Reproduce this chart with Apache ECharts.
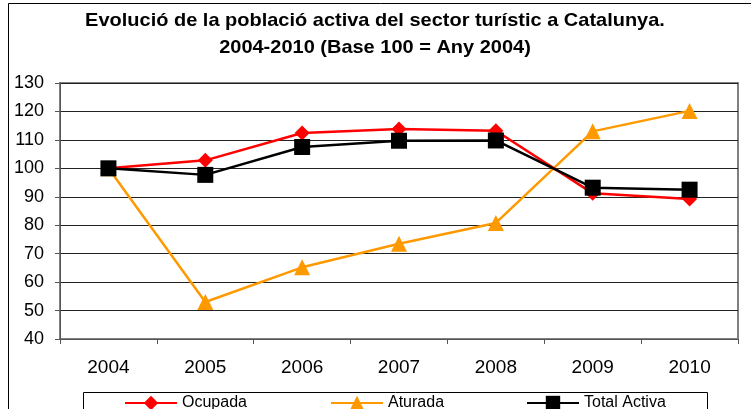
<!DOCTYPE html>
<html>
<head>
<meta charset="utf-8">
<script src="https://cdn.jsdelivr.net/npm/echarts@6/dist/echarts.min.js"></script>
<style>
  html, body { margin: 0; padding: 0; background: #fff; }
  #chart { width: 751px; height: 409px; }
</style>
</head>
<body>
<div id="chart"></div>
<script>
var years = ['2004', '2005', '2006', '2007', '2008', '2009', '2010'];
var ocupada = [100, 102.8, 112.4, 113.8, 113.2, 91.2, 89.2];
var aturada = [100, 53, 65.2, 73.5, 80.8, 113, 120.2];
var totalActiva = [100, 97.7, 107.5, 109.7, 109.8, 93.2, 92.5];
var titleLines = [
  'Evolució de la població activa del sector turístic a Catalunya.',
  '2004-2010 (Base 100 = Any 2004)'
];

var font = '"Liberation Sans", Arial, sans-serif';
var chart = echarts.init(document.getElementById('chart'));

// excel export stretches the text a bit wider than plain arial
function titleLine(text, y) {
  return {
    type: 'text',
    x: 375,
    y: y,
    scaleX: 1.13,
    silent: true,
    style: {
      text: text,
      x: 0,
      y: 0,
      align: 'center',
      verticalAlign: 'middle',
      fontFamily: font,
      fontSize: 17.7,
      fontWeight: 'bold',
      fill: '#000'
    }
  };
}

function legendAt(name, left) {
  return {
    data: [name],
    left: left,
    top: 395,
    padding: 0,
    itemWidth: 52,
    itemHeight: 18,
    itemGap: 0,
    textStyle: { fontFamily: font, fontSize: 16, color: '#000' }
  };
}

chart.setOption({
  animation: false,
  backgroundColor: '#fff',
  graphic: [
    {
      type: 'rect',
      shape: { x: 8.5, y: 3.5, width: 800, height: 500 },
      style: { fill: null, stroke: '#000', lineWidth: 1 },
      silent: true
    },
    {
      type: 'rect',
      shape: { x: 83.5, y: 392.5, width: 624, height: 40 },
      style: { fill: '#fff', stroke: '#000', lineWidth: 1 },
      silent: true,
      z: -1
    },
    titleLine(titleLines[0], 21),
    titleLine(titleLines[1], 48)
  ],
  legend: [
    legendAt('Ocupada', 124),
    legendAt('Aturada', 330),
    legendAt('Total Activa', 526)
  ],
  grid: {
    left: 60,
    top: 83,
    right: 13,
    bottom: 70,
    show: true,
    borderColor: '#808080',
    borderWidth: 2
  },
  xAxis: {
    type: 'category',
    data: years,
    boundaryGap: true,
    axisLine: { lineStyle: { color: '#555', width: 1 } },
    axisTick: { show: true, length: 5, lineStyle: { color: '#555' } },
    axisLabel: { fontFamily: font, fontSize: 19, color: '#000', margin: 19 }
  },
  yAxis: {
    type: 'value',
    min: 40,
    max: 130,
    interval: 10,
    axisLine: { show: true, lineStyle: { color: '#555', width: 1 } },
    axisTick: { show: true, length: 5, lineStyle: { color: '#555' } },
    axisLabel: { fontFamily: font, fontSize: 18, color: '#000', margin: 16 },
    splitLine: { lineStyle: { color: '#222', width: 1 } }
  },
  series: [
    {
      name: 'Ocupada',
      type: 'line',
      data: ocupada,
      color: '#FF0000',
      symbol: 'diamond',
      symbolSize: 15,
      lineStyle: { width: 2.5 },
      z: 2
    },
    {
      name: 'Aturada',
      type: 'line',
      data: aturada,
      color: '#FF9900',
      symbol: 'triangle',
      symbolSize: 16,
      lineStyle: { width: 2.5 },
      z: 1
    },
    {
      name: 'Total Activa',
      type: 'line',
      data: totalActiva,
      color: '#000000',
      symbol: 'rect',
      symbolSize: 16,
      lineStyle: { width: 2.5 },
      z: 3
    }
  ]
});
</script>
</body>
</html>
